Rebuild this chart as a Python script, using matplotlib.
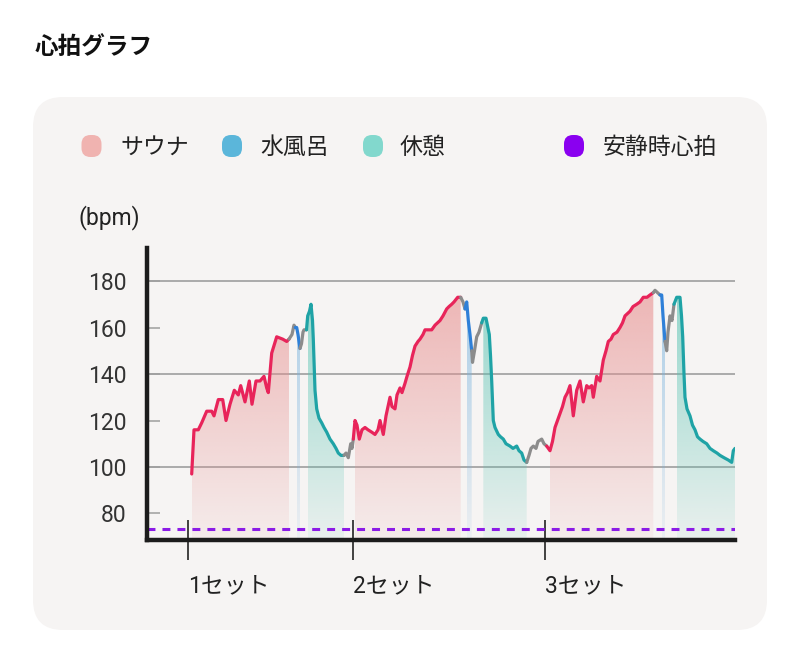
import numpy as np
import matplotlib.pyplot as plt
from matplotlib.patches import FancyBboxPatch
from matplotlib.colors import to_rgb

plt.rcParams['font.family'] = ['Roboto', 'Noto Sans CJK JP', 'DejaVu Sans']

# 時間(分) と 心拍(bpm)
set1_t = [0.37, 0.6, 1.03, 1.37, 1.87, 2.37, 2.6, 3.03, 3.47, 3.8, 4.2, 4.63, 5.03, 5.27,
          5.7, 6.13, 6.4, 6.8, 7.2, 7.6, 7.87, 8.03, 8.37, 8.87, 9.47, 9.87, 10.1,
          10.4, 10.6, 10.73,
          10.87, 11.0, 11.2,
          11.35, 11.5, 11.6, 11.85,
          11.97, 12.15, 12.3, 12.45, 12.53, 12.7, 12.87, 13.1, 13.37, 13.6, 13.87, 14.2,
          14.53, 14.8, 15.03, 15.3, 15.6,
          15.8, 16.03, 16.27, 16.4, 16.53]
set1_hr = [97, 116, 116, 119, 124, 124, 122, 129, 129, 120, 127, 133, 131, 135,
           128, 137, 127, 137, 137, 139, 134, 132, 149, 156, 155, 154, 155,
           157, 161, 160,
           160, 157, 151,
           153, 158, 159, 159,
           165, 167, 170, 163, 155, 133, 125, 121, 119, 117, 115, 112,
           110, 108, 106, 105, 105,
           106, 104, 110, 108, 112]
set1_starts = [0.0, 10.3, 10.8, 11.3, 11.9, 15.7]

set2_t = [16.7, 16.9, 17.13, 17.4, 17.7, 18.0, 18.37, 18.7, 19.0, 19.2, 19.53, 19.8, 20.0,
          20.2, 20.4, 20.7, 20.9, 21.2, 21.4, 21.7, 21.9, 22.2, 22.45, 22.7, 23.0, 23.2,
          23.5, 23.7, 24.0, 24.37, 24.7, 25.2, 25.5, 25.87, 26.1, 26.37, 26.6, 26.97, 27.27,
          27.5, 27.7,
          27.87, 28.03, 28.2, 28.37,
          28.45, 28.65, 28.87, 29.1, 29.37,
          29.53, 29.8, 30.13, 30.25, 30.37, 30.53, 30.7, 31.03, 31.25, 31.53, 31.8, 32.2,
          32.5, 32.87, 33.1, 33.37, 33.6, 33.87,
          34.1, 34.3, 34.53, 34.8, 35.0, 35.37, 35.6, 35.87]
set2_hr = [120, 118, 112, 116, 117, 116, 115, 114, 116, 120, 114, 122, 126,
           130, 126, 125, 131, 134, 132, 136, 139, 143, 148, 152, 154, 155,
           157, 159, 159, 159, 161, 163, 165, 168, 169, 170, 171, 173, 173,
           171, 168,
           171, 163, 157, 150,
           145, 150, 156, 158, 162,
           164, 164, 157, 148, 137, 120, 117, 114, 113, 112, 110, 109,
           108, 109, 107, 106, 103, 102,
           105, 108, 109, 108, 111, 112, 110, 109]
set2_starts = [16.6, 27.4, 27.8, 28.4, 29.5, 34.0]

set3_t = [36.2, 36.45, 36.7, 36.95, 37.2, 37.45, 37.7, 37.95, 38.2, 38.53, 38.87, 39.2,
          39.53, 39.87, 40.1, 40.37, 40.53, 40.87, 41.2, 41.53, 41.8, 42.03, 42.3, 42.53,
          42.9, 43.2, 43.45, 43.7, 44.2, 44.5, 44.87, 45.2, 45.53, 45.9, 46.2, 46.53,
          46.7, 46.95, 47.2,
          47.37, 47.5, 47.7,
          47.87, 48.0, 48.2, 48.4, 48.6,
          48.87, 49.2, 49.35, 49.47, 49.6, 49.7, 49.9, 50.2, 50.45, 50.7, 50.95, 51.2,
          51.5, 51.87, 52.2, 52.53, 52.9, 53.2, 53.6, 54.03, 54.37, 54.53, 54.7]
set3_hr = [107, 111, 117, 120, 123, 126, 130, 132, 135, 122, 133, 137,
           128, 135, 134, 135, 130, 139, 137, 146, 150, 154, 155, 157,
           158, 160, 162, 165, 167, 169, 170, 171, 173, 173, 174, 175,
           176, 175, 174,
           174, 165, 154,
           150, 158, 165, 163, 170,
           173, 173, 165, 156, 140, 130, 125, 122, 118, 116, 113, 112,
           111, 110, 108, 107, 106, 105, 104, 103, 102, 107, 108]
set3_starts = [36.0, 46.6, 47.3, 47.8, 48.8]

phase_order = ['sauna', 'move', 'water', 'move', 'rest', 'move']
set_ticks = [0.0, 16.5, 35.7]
set_labels = ['1セット', '2セット', '3セット']
resting_hr = 73.3

legend_labels = ['サウナ', '水風呂', '休憩', '安静時心拍']
legend_colors = ['#f0b3b0', '#5bb6da', '#82d8cd', '#8a00f0']

line_colors = {'sauna': '#e8245a', 'water': '#2f80d8', 'rest': '#1fa3a6', 'move': '#8c8c8c'}
fill_colors = {'sauna': '#e89090', 'water': '#7ab4de', 'rest': '#58c4b3'}

y_bot, y_top = 68.6, 194.2

fig = plt.figure(figsize=(8, 6.65), dpi=100)
fig.patch.set_facecolor('white')

# 背景（カード・タイトル・凡例）
bg = fig.add_axes([0, 0, 1, 1], zorder=-1)
bg.set_xlim(0, 800)
bg.set_ylim(665, 0)
bg.axis('off')
bg.add_patch(FancyBboxPatch((33, 97), 734, 533, boxstyle='round,pad=0,rounding_size=30',
                            facecolor='#f6f4f3', edgecolor='none'))
bg.text(35, 47, '心拍グラフ', fontsize=17, fontweight='bold', color='#111111', va='center')

marker_x = [91.5, 232, 373, 574]
text_x = [120, 260, 399, 603]
for mx, tx, lab, c in zip(marker_x, text_x, legend_labels, legend_colors):
    bg.add_patch(FancyBboxPatch((mx - 10, 135), 20, 22, boxstyle='round,pad=0,rounding_size=9',
                                facecolor=c, edgecolor='none'))
    bg.text(tx, 147, lab, fontsize=16.5, color='#222222', va='center')
bg.text(78, 218, '(bpm)', fontsize=16.5, color='#222222', va='center')

# 心拍グラフ本体
ax = fig.add_axes([147 / 800, 1 - 540 / 665, 588 / 800, 292 / 665])
ax.set_facecolor('none')

t_all, hr_all, ph_all = [], [], []
for ts, hs, starts in [(set1_t, set1_hr, set1_starts),
                       (set2_t, set2_hr, set2_starts),
                       (set3_t, set3_hr, set3_starts)]:
    for ti, hi in zip(ts, hs):
        k = max(i for i, s in enumerate(starts) if ti >= s)
        t_all.append(ti)
        hr_all.append(hi)
        ph_all.append(phase_order[k])
t_all = np.array(t_all)
hr_all = np.array(hr_all, dtype=float)


def gradient_fill(tt, hh, color):
    poly = ax.fill_between(tt, hh, y_bot, facecolor='none', edgecolor='none')
    img = np.zeros((256, 1, 4))
    img[..., :3] = to_rgb(color)
    img[:, 0, 3] = np.linspace(0.72, 0.08, 256)
    im = ax.imshow(img, extent=[tt[0], tt[-1], y_bot, y_top], aspect='auto',
                   origin='upper', zorder=2, interpolation='bilinear')
    im.set_clip_path(poly.get_paths()[0], transform=ax.transData)


for y in [100, 140, 180]:
    ax.axhline(y, color='#9e9e9e', lw=1.2, zorder=1)

n = len(t_all)
start = 0
for i in range(1, n + 1):
    if i == n or ph_all[i] != ph_all[start]:
        name = ph_all[start]
        a0 = max(start - 1, 0)
        ax.plot(t_all[a0:i], hr_all[a0:i], color=line_colors[name], lw=2.3,
                solid_joinstyle='round', solid_capstyle='round', zorder=4)
        if name != 'move':
            gradient_fill(t_all[start:i], hr_all[start:i], fill_colors[name])
        start = i

ax.axhline(resting_hr, color='#8b1be6', lw=2.2, dashes=(2.6, 2.3), zorder=5)

ax.set_xlim(-4.1, 54.7)
ax.set_ylim(y_bot, y_top)

for s in ['top', 'right']:
    ax.spines[s].set_visible(False)
for s in ['left', 'bottom']:
    ax.spines[s].set_linewidth(3.2)
    ax.spines[s].set_color('#1c1c1c')
    ax.spines[s].set_capstyle('projecting')
    ax.spines[s].set_zorder(6)

ax.set_yticks([80, 100, 120, 140, 160, 180])
ax.tick_params(axis='y', direction='in', length=9, width=1.1, color='#9e9e9e',
               labelsize=16.5, labelcolor='#333333', pad=15)
ax.set_xticks(set_ticks)
ax.set_xticklabels(set_labels, ha='left')
ax.tick_params(axis='x', direction='inout', length=29, width=1.1, color='#111111',
               labelsize=16.5, labelcolor='#222222', pad=10)

fig.savefig('out.png', dpi=100, facecolor='white')
